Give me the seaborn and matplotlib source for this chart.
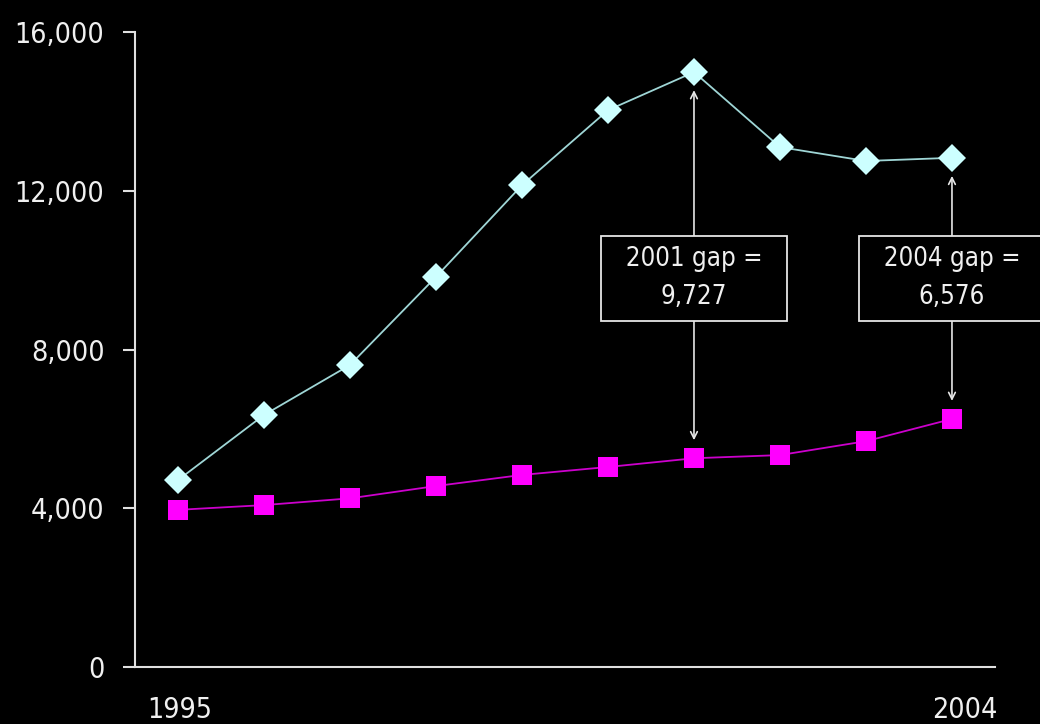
import pandas as pd
import numpy as np
import seaborn as sns
import matplotlib.pyplot as plt
from matplotlib import font_manager
from matplotlib.transforms import ScaledTranslation
from matplotlib.ticker import FuncFormatter

# -----------------------------
# Data
# -----------------------------
years = [1995, 1996, 1997, 1998, 1999, 2000, 2001, 2002, 2003, 2004]
upper = [4710, 6350, 7610, 9830, 12140, 14030, 14990, 13100, 12750, 12830]
lower = [3960, 4080, 4250, 4560, 4840, 5040, 5260, 5340, 5690, 6250]
series_names = ["upper", "lower"]
gap_years = [2001, 2004]
gap_labels = ["  2001 gap =  \n9,727", "  2004 gap =  \n6,576"]
y_ticks = [0, 4000, 8000, 12000, 16000]

df = pd.DataFrame({
    "year": years * 2,
    "value": upper + lower,
    "series": [series_names[0]] * len(years) + [series_names[1]] * len(years),
})

sns.set_style("dark")

# narrow font if there is one, otherwise a smaller regular one
installed = {(f.name, f.stretch) for f in font_manager.fontManager.ttflist}
names = {n for n, s in installed}
stretch = "normal"
if "Liberation Sans Narrow" in names:
    family, tick_fs, box_fs = "Liberation Sans Narrow", 24, 20
elif ("DejaVu Sans", "condensed") in installed or "DejaVu Sans Condensed" in names:
    family, tick_fs, box_fs = "DejaVu Sans", 20.5, 18.5
    stretch = "condensed"
else:
    family, tick_fs, box_fs = "Liberation Sans", 20, 17
plt.rcParams['font.family'] = [family, 'DejaVu Sans']
plt.rcParams['font.stretch'] = stretch

fig = plt.figure(figsize=(10.4, 7.24), dpi=100, facecolor="black")
ax = fig.add_axes([0.1298, 0.0787, 0.8269, 0.8771])
ax.set_facecolor("black")

sns.lineplot(data=df, x="year", y="value", hue="series", style="series",
             markers={"upper": "D", "lower": "s"}, dashes=False,
             palette={"upper": "#9fd6d6", "lower": "#cc00cc"},
             linewidth=1.3, markersize=14, markeredgewidth=0,
             legend=False, ax=ax)

# marker face colours differ slightly from the lines
for line, face in zip(ax.get_lines(), ["#ccffff", "#ff00ff"]):
    line.set_markerfacecolor(face)
    line.set_markeredgecolor(face)

# -----------------------------
# Gap annotations
# -----------------------------
val_up = dict(zip(years, upper))
val_lo = dict(zip(years, lower))
for yr, lab in zip(gap_years, gap_labels):
    mid = 9790
    for target in (val_up[yr], val_lo[yr]):
        ax.annotate("", xy=(yr, target), xytext=(yr, mid),
                    arrowprops=dict(arrowstyle="->", color="#e6e6e6", lw=1.2,
                                    shrinkA=0, shrinkB=13, mutation_scale=12),
                    zorder=3)
    ax.text(yr, mid, lab, ha="center", va="center", color="#f0f0f0",
            fontsize=box_fs, linespacing=1.6, multialignment="center", zorder=5,
            bbox=dict(boxstyle="square,pad=0.4", facecolor="black",
                      edgecolor="#e6e6e6", linewidth=1.3))

# -----------------------------
# Axes styling
# -----------------------------
ax.set_xlim(1994.5, 2004.5)
ax.set_ylim(0, 16000)
ax.set_yticks(y_ticks)
ax.yaxis.set_major_formatter(FuncFormatter(lambda v, p: f"{int(v):,}"))
ax.set_xticks([1995, 2004])
ax.set_xticklabels(["1995", "2004"])
ax.set_xlabel("")
ax.set_ylabel("")
ax.grid(False)
for side in ["top", "right"]:
    ax.spines[side].set_visible(False)
for side in ["left", "bottom"]:
    ax.spines[side].set_visible(True)
    ax.spines[side].set_color("#e0e0e0")
    ax.spines[side].set_linewidth(1.5)
ax.tick_params(axis="y", colors="#e0e0e0", labelcolor="#f0f0f0", length=9,
               width=1.5, direction="out", labelsize=tick_fs, pad=13, left=True)
ax.tick_params(axis="x", length=0, labelcolor="#f0f0f0", labelsize=tick_fs, pad=21)

# the end label sits a little right of its point in the original
for lbl, dx in zip(ax.get_xticklabels(), [2, 13]):
    lbl.set_transform(lbl.get_transform() + ScaledTranslation(dx / 100, 0, fig.dpi_scale_trans))

fig.savefig("out.png", dpi=100, facecolor="black")
